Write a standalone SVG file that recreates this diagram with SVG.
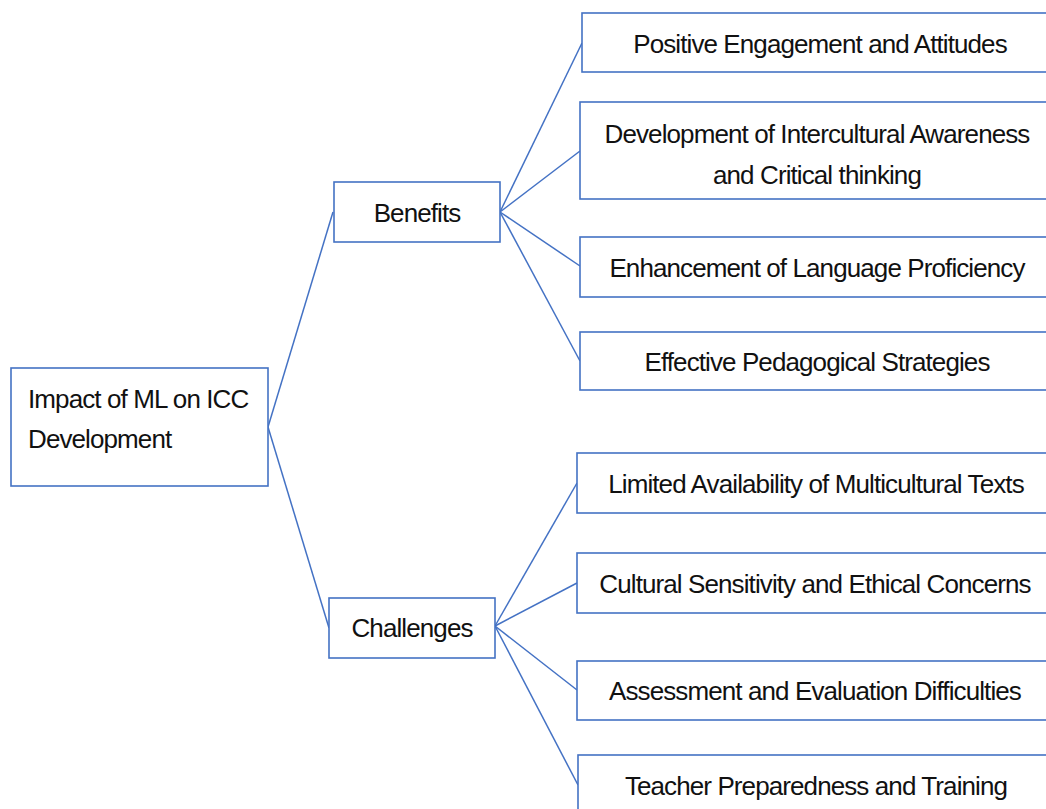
<svg xmlns="http://www.w3.org/2000/svg" width="1046" height="809" viewBox="0 0 1046 809">
<style>
.box{fill:#fff;stroke:#4472c4;stroke-width:1.6}
.ln{fill:none;stroke:#4472c4;stroke-width:1.5}
text{font-family:"Liberation Sans",Arial,sans-serif;font-size:26px;fill:#111;letter-spacing:-0.9px}
.c{text-anchor:middle}
</style>
<rect width="1046" height="809" fill="#fff"/>
<g id="connectors">
<line class="ln" x1="268" y1="427" x2="333" y2="212"/>
<line class="ln" x1="268" y1="427" x2="329" y2="628"/>
<line class="ln" x1="500" y1="212" x2="582" y2="43"/>
<line class="ln" x1="500" y1="212" x2="580" y2="151"/>
<line class="ln" x1="500" y1="212" x2="580" y2="266"/>
<line class="ln" x1="500" y1="212" x2="580" y2="361"/>
<line class="ln" x1="495" y1="626" x2="577" y2="483"/>
<line class="ln" x1="495" y1="626" x2="577" y2="583"/>
<line class="ln" x1="495" y1="626" x2="577" y2="690"/>
<line class="ln" x1="495" y1="626" x2="578" y2="785"/>
</g>
<g id="root">
<rect class="box" x="11" y="368" width="257" height="118"/>
<text x="28" y="408">Impact of ML on ICC</text>
<text x="28" y="448">Development</text>
</g>
<g id="benefits">
<rect class="box" x="334" y="182" width="166" height="60"/>
<text class="c" x="417" y="222">Benefits</text>
</g>
<g id="challenges">
<rect class="box" x="329" y="598" width="166" height="60"/>
<text class="c" x="412" y="637">Challenges</text>
</g>
<g id="b1">
<rect class="box" x="582" y="13" width="480" height="59"/>
<text class="c" x="820" y="53">Positive Engagement and Attitudes</text>
</g>
<g id="b2">
<rect class="box" x="580" y="102" width="480" height="97"/>
<text class="c" x="817" y="143">Development of Intercultural Awareness</text>
<text class="c" x="817" y="184">and Critical thinking</text>
</g>
<g id="b3">
<rect class="box" x="580" y="237" width="480" height="60"/>
<text class="c" x="817" y="277">Enhancement of Language Proficiency</text>
</g>
<g id="b4">
<rect class="box" x="580" y="332" width="480" height="58"/>
<text class="c" x="817" y="371">Effective Pedagogical Strategies</text>
</g>
<g id="c1">
<rect class="box" x="577" y="453" width="480" height="60"/>
<text class="c" x="816" y="493">Limited Availability of Multicultural Texts</text>
</g>
<g id="c2">
<rect class="box" x="577" y="553" width="480" height="60"/>
<text class="c" x="815" y="593">Cultural Sensitivity and Ethical Concerns</text>
</g>
<g id="c3">
<rect class="box" x="577" y="661" width="480" height="59"/>
<text class="c" x="815" y="700">Assessment and Evaluation Difficulties</text>
</g>
<g id="c4">
<rect class="box" x="578" y="755" width="480" height="80"/>
<text class="c" x="816" y="795">Teacher Preparedness and Training</text>
</g>
</svg>
